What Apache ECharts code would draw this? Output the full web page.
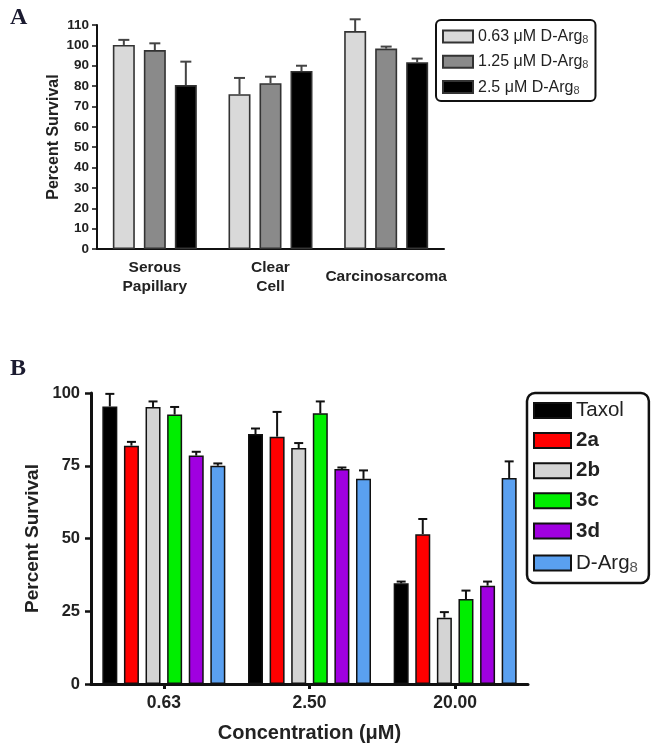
<!DOCTYPE html>
<html><head><meta charset="utf-8">
<script src="https://cdn.jsdelivr.net/npm/echarts@6/dist/echarts.min.js"></script>
<style>html,body{margin:0;padding:0;background:#fff}#c{width:658px;height:750px}</style>
</head><body><div id="c"></div>
<script>
// ---------- Panel A data ----------
const catsA = ['Serous\nPapillary', 'Clear\nCell', 'Carcinosarcoma'];
const namesA = ['0.63 μM D-Arg8', '1.25 μM D-Arg8', '2.5 μM D-Arg8'];
const a063 = [100.2, 76.0, 107.0];
const a063Err = [102.7, 84.0, 112.8];
const a125 = [97.7, 81.4, 98.4];
const a125Err = [101.0, 84.6, 99.4];
const a250 = [80.5, 87.4, 91.7];
const a250Err = [92.0, 90.0, 93.5];
const ticksA = [0, 110, 10];

// ---------- Panel B data ----------
const catsB = ['0.63', '2.50', '20.00'];
const namesB = ['Taxol', '2a', '2b', '3c', '3d', 'D-Arg8'];
const bTaxol = [95.4, 85.9, 34.6];
const bTaxolErr = [99.7, 87.8, 35.2];
const b2a = [81.9, 85.0, 51.5];
const b2aErr = [83.2, 93.5, 56.7];
const b2b = [95.2, 81.1, 22.8];
const b2bErr = [97.1, 82.8, 24.7];
const b3c = [92.6, 93.0, 29.2];
const b3cErr = [95.2, 97.1, 32.1];
const b3d = [78.5, 73.9, 33.8];
const b3dErr = [79.8, 74.4, 35.2];
const bDArg = [75.0, 70.5, 70.8];
const bDArgErr = [75.8, 73.4, 76.5];
const ticksB = [0, 100, 25];

const FONT = '"Liberation Sans", Arial, sans-serif';
const colorsA = ['#d9d9d9', '#8a8a8a', '#000000'];
const colorsB = ['#000000', '#ff0000', '#d4d4d4', '#00ee00', '#a000e0', '#5aa0f0'];

const valsA = [a063, a125, a250], errsA = [a063Err, a125Err, a250Err];
const valsB = [bTaxol, b2a, b2b, b3c, b3d, bDArg];
const errsB = [bTaxolErr, b2aErr, b2bErr, b3cErr, b3dErr, bDArgErr];

const bwA = 22, gapA = 9, bwB = 15, gapB = 6.6;

function errSeries(grid, idx, n, bw, gap, vals, errs, color, lw, capW) {
  return {
    type: 'custom', name: 'err' + grid + '_' + idx, xAxisIndex: grid, yAxisIndex: grid, z: 5,
    data: vals.map((v, i) => [i, v, errs[i]]),
    renderItem: function (params, api) {
      const c = api.coord([api.value(0), api.value(1)]);
      const t = api.coord([api.value(0), api.value(2)]);
      const total = n * bw + (n - 1) * gap;
      const x = c[0] - total / 2 + idx * (bw + gap) + bw / 2;
      if (Math.abs(c[1] - t[1]) < 0.5) return null;
      const st = { stroke: color, lineWidth: lw };
      return { type: 'group', children: [
        { type: 'line', shape: { x1: x, y1: c[1], x2: x, y2: t[1] }, style: st },
        { type: 'line', shape: { x1: x - capW / 2, y1: t[1], x2: x + capW / 2, y2: t[1] }, style: st }
      ]};
    }
  };
}

const series = [];
namesA.forEach((nm, i) => {
  series.push({ type: 'bar', name: nm, xAxisIndex: 0, yAxisIndex: 0, data: valsA[i],
    barWidth: bwA, barGap: (gapA / bwA * 100) + '%',
    itemStyle: { color: colorsA[i], borderColor: '#333', borderWidth: 1.6 } });
});
namesA.forEach((nm, i) => series.push(errSeries(0, i, 3, bwA, gapA, valsA[i], errsA[i], '#444', 2, 11)));
namesB.forEach((nm, i) => {
  series.push({ type: 'bar', name: nm, xAxisIndex: 1, yAxisIndex: 1, data: valsB[i],
    barWidth: bwB, barGap: (gapB / bwB * 100) + '%',
    itemStyle: { color: colorsB[i], borderColor: '#111', borderWidth: 1.5 } });
});
namesB.forEach((nm, i) => series.push(errSeries(1, i, 6, bwB, gapB, valsB[i], errsB[i], '#111', 2, 9)));

const option = {
  animation: false,
  textStyle: { fontFamily: FONT },
  graphic: [
    { type: 'text', left: 10, top: 6, style: { text: 'A', font: 'bold 24px "Liberation Serif", serif', fill: '#1b1b30' } },
    { type: 'text', left: 10, top: 357, style: { text: 'B', font: 'bold 24px "Liberation Serif", serif', fill: '#1b1b30' } }
  ],
  grid: [
    { left: 97, top: 25, width: 347, height: 224 },
    { left: 91, top: 393, width: 437, height: 291 }
  ],
  xAxis: [
    { type: 'category', gridIndex: 0, data: catsA,
      axisLine: { lineStyle: { color: '#111', width: 2 } }, axisTick: { show: false },
      axisLabel: { color: '#222', fontWeight: 'bold', fontSize: 15.5, fontFamily: FONT, lineHeight: 19, verticalAlign: 'middle', margin: 28, interval: 0 } },
    { type: 'category', gridIndex: 1, data: catsB,
      axisLine: { lineStyle: { color: '#111', width: 3 } },
      axisTick: { show: true, alignWithLabel: true, length: 5, lineStyle: { width: 3, color: '#111' } },
      axisLabel: { color: '#222', fontWeight: 'bold', fontSize: 17.5, fontFamily: FONT, margin: 10 },
      name: 'Concentration (μM)', nameLocation: 'middle', nameGap: 39, nameMoveOverlap: false,
      nameTextStyle: { color: '#222', fontWeight: 'bold', fontSize: 20, fontFamily: FONT } }
  ],
  yAxis: [
    { type: 'value', gridIndex: 0, min: ticksA[0], max: ticksA[1], interval: ticksA[2],
      splitLine: { show: false },
      axisLine: { show: true, lineStyle: { color: '#111', width: 2 } },
      axisTick: { show: true, length: 5, lineStyle: { width: 1.5, color: '#111' } },
      axisLabel: { color: '#222', fontWeight: 'bold', fontSize: 13.5, fontFamily: FONT, margin: 8 },
      name: 'Percent Survival', nameLocation: 'middle', nameGap: 35, nameRotate: 90, nameMoveOverlap: false,
      nameTextStyle: { color: '#222', fontWeight: 'bold', fontSize: 16, fontFamily: FONT } },
    { type: 'value', gridIndex: 1, min: ticksB[0], max: ticksB[1], interval: ticksB[2],
      splitLine: { show: false },
      axisLine: { show: true, lineStyle: { color: '#111', width: 3 } },
      axisTick: { show: true, length: 6, lineStyle: { width: 2.5, color: '#111' } },
      axisLabel: { color: '#222', fontWeight: 'bold', fontSize: 16.5, fontFamily: FONT, margin: 11 },
      name: 'Percent Survival', nameLocation: 'middle', nameGap: 49, nameRotate: 90, nameMoveOverlap: false,
      nameTextStyle: { color: '#222', fontWeight: 'bold', fontSize: 19, fontFamily: FONT } }
  ],
  legend: [
    { data: namesA, orient: 'vertical', left: 436, top: 20, icon: 'rect',
      itemWidth: 30, itemHeight: 12, itemGap: 7.3, padding: [7.5, 7, 5, 6],
      borderColor: '#111', borderWidth: 2, borderRadius: 5, selectedMode: false,
      formatter: nm => '{t|' + nm.slice(0, -1) + '}{s|8}',
      textStyle: { color: '#222', fontFamily: FONT,
        rich: { t: { fontSize: 16, lineHeight: 17, fontFamily: FONT, color: '#222' },
                s: { fontSize: 11, lineHeight: 10, fontFamily: FONT, color: '#444', padding: [7, 0, 0, 0] } } } },
    { data: namesB, orient: 'vertical', left: 527, top: 393, icon: 'rect',
      itemWidth: 37, itemHeight: 15, itemGap: 9.1, padding: [7, 11, 7.5, 6],
      borderColor: '#111', borderWidth: 2.5, borderRadius: 8, selectedMode: false,
      formatter: function (nm) {
        if (nm === 'Taxol') return '{n|Taxol}';
        if (nm === 'D-Arg8') return '{n|D-Arg}{s|8}';
        return '{b|' + nm + '}';
      },
      textStyle: { color: '#222', fontFamily: FONT,
        rich: { n: { fontSize: 20.5, lineHeight: 22, fontFamily: FONT, color: '#222' },
                b: { fontSize: 20.5, lineHeight: 22, fontWeight: 'bold', fontFamily: FONT, color: '#222' },
                s: { fontSize: 15, lineHeight: 12, fontFamily: FONT, color: '#555', padding: [10, 0, 0, 0] } } } }
  ],
  series: series
};
const chart = echarts.init(document.getElementById('c'), null, { renderer: 'canvas' });
chart.setOption(option);
</script></body></html>
